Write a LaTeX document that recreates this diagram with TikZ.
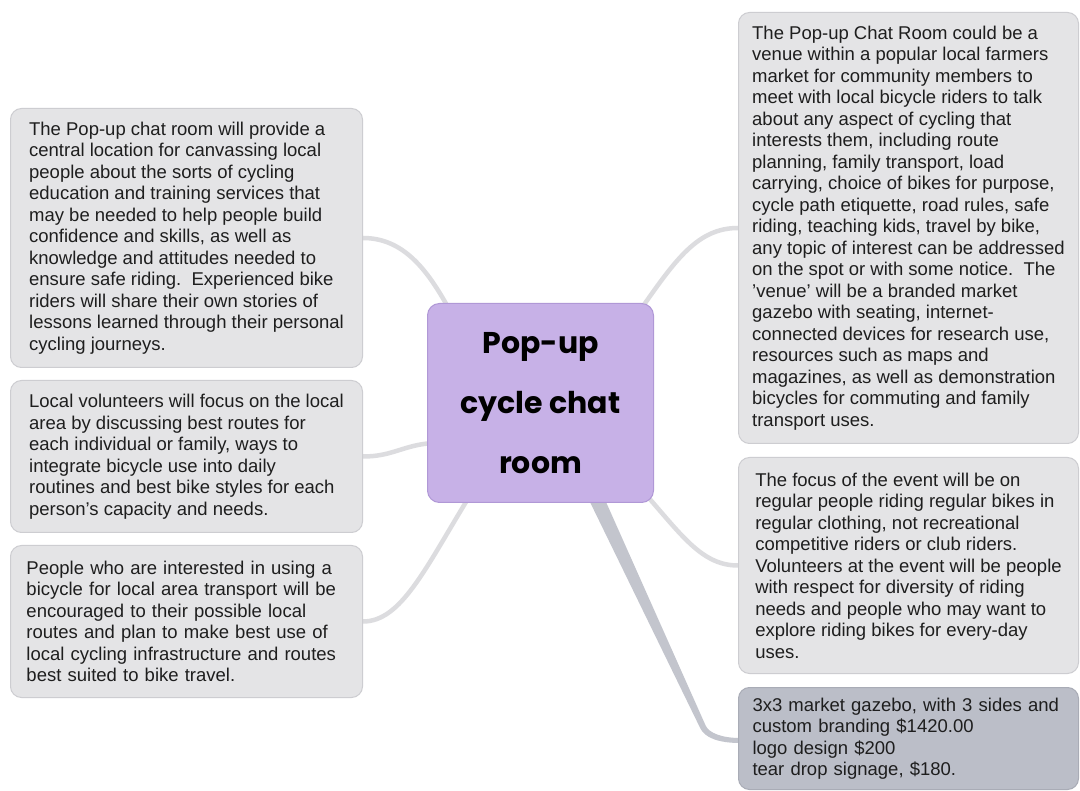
\documentclass[tikz,border=0pt]{standalone}
\usepackage{fontspec}
\setmainfont{Liberation Sans}
\newfontfamily\titlefont{Poppins}
\usetikzlibrary{calc}
\pgfdeclarelayer{bg}
\pgfsetlayers{bg,main}
\definecolor{boxfill}{HTML}{E4E4E6}
\definecolor{boxline}{HTML}{CDCDD1}
\definecolor{darkfill}{HTML}{BBBEC8}
\definecolor{darkline}{HTML}{A9ACB6}
\definecolor{hubfill}{HTML}{C7B1E7}
\definecolor{hubline}{HTML}{B098D6}
\definecolor{linkcol}{HTML}{DCDCDF}
\definecolor{linksix}{HTML}{C3C5CD}
\definecolor{txt}{HTML}{1E1E1E}
\begin{document}
\begin{tikzpicture}[x=1pt,y=-1pt,
  note/.style={draw=boxline, fill=boxfill, line width=1pt, rounded corners=11pt,
    align=left, anchor=north west, inner sep=0pt, text=txt,
    font=\fontsize{18.5}{21.5}\selectfont},
  costnote/.style={note, draw=darkline, fill=darkfill},
  hub/.style={draw=hubline, fill=hubfill, line width=1pt, rounded corners=12pt,
    align=center, anchor=north west, inner sep=0pt, text=black,
    font=\titlefont\bfseries\fontsize{30}{60}\selectfont},
  link/.style={draw=linkcol, line width=4.5pt, line cap=round}]
\useasboundingbox (0,0) rectangle (1080,791);

\node[hub, minimum width=226pt, minimum height=199pt] (hub) at (427,303)
  {Pop-up\\cycle chat\\room};

\node[note, minimum width=352pt, minimum height=259pt] (b1) at (10,108)
  {The Pop-up chat room will provide a\\
   central location for canvassing local\\
   people about the sorts of cycling\\
   education and training services that\\
   may be needed to help people build\\
   confidence and skills, as well as\\
   knowledge and attitudes needed to\\
   ensure safe riding.\ \ Experienced bike\\
   riders will share their own stories of\\
   lessons learned through their personal\\
   cycling journeys.};

\node[note, minimum width=352pt, minimum height=152pt] (b2) at (10,380)
  {Local volunteers will focus on the local\\
   area by discussing best routes for\\
   each individual or family, ways to\\
   integrate bicycle use into daily\\
   routines and best bike styles for each\\
   person's capacity and needs.};

\node[note, minimum width=352pt, minimum height=152pt, inner xsep=16pt,
      text width=320pt] (b3) at (10,545)
  {People who are interested in using a\\
   bicycle for local area transport will be\\
   encouraged to their possible local\\
   routes and plan to make best use of\\
   local cycling infrastructure and routes\\
   best suited to bike travel.};

\node[note, minimum width=340pt, minimum height=431pt] (b4) at (738,12)
  {The Pop-up Chat Room could be a\\
   venue within a popular local farmers\\
   market for community members to\\
   meet with local bicycle riders to talk\\
   about any aspect of cycling that\\
   interests them, including route\\
   planning, family transport, load\\
   carrying, choice of bikes for purpose,\\
   cycle path etiquette, road rules, safe\\
   riding, teaching kids, travel by bike,\\
   any topic of interest can be addressed\\
   on the spot or with some notice.\ \ The\\
   'venue' will be a branded market\\
   gazebo with seating, internet-\\
   connected devices for research use,\\
   resources such as maps and\\
   magazines, as well as demonstration\\
   bicycles for commuting and family\\
   transport uses.};

\node[note, minimum width=340pt, minimum height=216pt] (b5) at (738,457)
  {The focus of the event will be on\\
   regular people riding regular bikes in\\
   regular clothing, not recreational\\
   competitive riders or club riders.\\
   Volunteers at the event will be people\\
   with respect for diversity of riding\\
   needs and people who may want to\\
   explore riding bikes for every-day\\
   uses.};

\node[costnote, minimum width=340pt, minimum height=102pt, inner xsep=14pt,
      text width=312pt] (b6) at (738,687)
  {3x3 market gazebo, with 3 sides and\\
   custom branding \$1420.00\\
   logo design \$200\\
   tear drop signage, \$180.};

\begin{pgfonlayer}{bg}
  \fill[white] (0,0) rectangle (1080,791);
  \draw[link] ([xshift=22pt,yshift=-6pt]hub.north west)
    .. controls +(-22,-40) and +(40,0) .. (b1.east);
  \draw[link] ([xshift=6pt,yshift=-40pt]hub.west)
    .. controls +(-30,2) and +(30,0) .. (b2.east);
  \draw[link] ([xshift=42pt,yshift=6pt]hub.south west)
    .. controls +(-44,72) and +(38,0) .. (b3.east);
  \draw[link] ([xshift=-13pt,yshift=-6pt]hub.north east)
    .. controls +(35,-50) and +(-40,0) .. (b4.west);
  \draw[link] ([xshift=-6pt,yshift=6pt]hub.south east)
    .. controls +(35,40) and +(-35,0) .. (b5.west);
  \coordinate (s6) at ([xshift=-62pt,yshift=14pt]hub.south east);
  \coordinate (k6) at (703,727);
  \coordinate (e6) at ([xshift=2pt,yshift=-2pt]b6.west);
  \fill[linksix] ($(s6)+(6.8,-3.2)$) -- ($(k6)+(2.7,-1.3)$)
    .. controls ($(k6)+(6,6)$) and ($(e6)+(-18,-2.5)$) .. ($(e6)+(0,-2.5)$)
    -- ($(e6)+(0,2.5)$)
    .. controls ($(e6)+(-22,2.5)$) and ($(k6)+(1.5,10.4)$) .. ($(k6)+(-2.7,1.3)$)
    -- ($(s6)+(-6.8,3.2)$) -- cycle;
\end{pgfonlayer}
\end{tikzpicture}
\end{document}
